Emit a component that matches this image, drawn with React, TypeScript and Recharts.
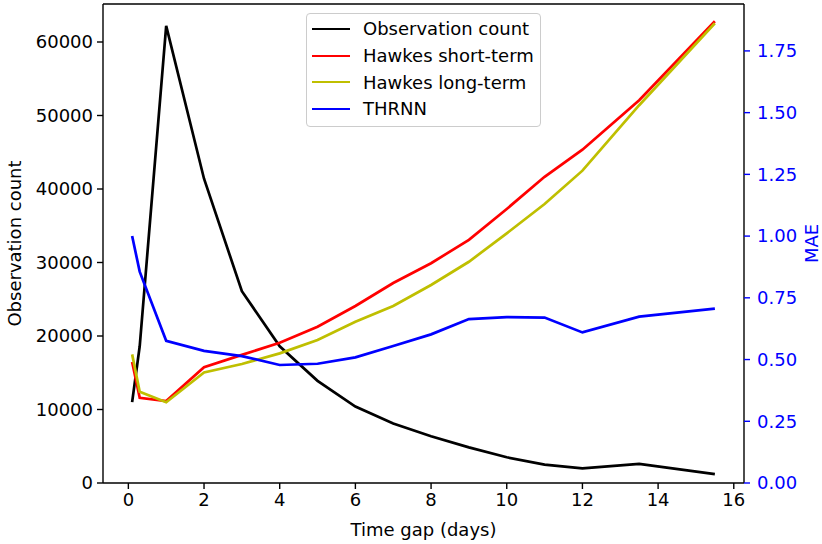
import { LineChart, Line, XAxis, YAxis, Legend, ReferenceLine } from 'recharts';

const gaps = [0.1, 0.3, 1, 2, 3, 4, 5, 6, 7, 8, 9, 10, 11, 12, 13.5, 15.5];
const observationCount = [11000, 18600, 62200, 41400, 26100, 18600, 13900, 10400, 8100, 6350, 4850, 3500, 2500, 2000, 2600, 1200];
const hawkesShort = [0.49, 0.345, 0.332, 0.469, 0.519, 0.568, 0.633, 0.717, 0.81, 0.89, 0.985, 1.11, 1.24, 1.35, 1.55, 1.87];
const hawkesLong = [0.521, 0.37, 0.327, 0.448, 0.482, 0.525, 0.579, 0.653, 0.717, 0.802, 0.896, 1.011, 1.13, 1.265, 1.53, 1.862];
const thrnn = [1.0, 0.856, 0.576, 0.535, 0.514, 0.478, 0.483, 0.509, 0.555, 0.602, 0.664, 0.672, 0.67, 0.61, 0.674, 0.706];

const xTicks = [0, 2, 4, 6, 8, 10, 12, 14, 16];
const countTicks = [0, 10000, 20000, 30000, 40000, 50000, 60000];
const maeTicks = [0, 0.25, 0.5, 0.75, 1, 1.25, 1.5, 1.75];

const COUNT_MAX = 65170;
const MAE_MAX = 1.94;

const series = [
  { key: 'count', name: 'Observation count', color: '#000000', axis: 'count' },
  { key: 'short', name: 'Hawkes short-term', color: '#ff0000', axis: 'mae' },
  { key: 'long', name: 'Hawkes long-term', color: '#bfbf00', axis: 'mae' },
  { key: 'thrnn', name: 'THRNN', color: '#0000ff', axis: 'mae' },
];

const data = gaps.map((gap, i) => ({
  gap,
  count: observationCount[i],
  short: hawkesShort[i],
  long: hawkesLong[i],
  thrnn: thrnn[i],
}));

const LINE_W = 2.7;
const SPINE = '#000';

function LegendBox() {
  return (
    <div
      style={{
        boxSizing: 'border-box',
        width: 235,
        height: 114,
        border: '1px solid #cccccc',
        borderRadius: 4,
        background: 'rgba(255,255,255,0.8)',
        padding: '1.5px 0 0 5px',
        fontSize: 18,
        color: '#000',
      }}
    >
      {series.map((s) => (
        <div key={s.key} style={{ display: 'flex', alignItems: 'center', height: 26.7 }}>
          <span
            style={{
              display: 'inline-block',
              width: 38,
              height: 0,
              borderTop: `${LINE_W}px solid ${s.color}`,
              marginRight: 13,
            }}
          />
          <span style={{ whiteSpace: 'nowrap' }}>{s.name}</span>
        </div>
      ))}
    </div>
  );
}

export default function App() {
  const tickFont = { fontSize: 18, fill: '#000' };
  return (
    <div style={{ position: 'absolute', left: 0, top: 0, fontFamily: 'DejaVu Sans', background: '#fff' }}>
      <LineChart width={822} height={544} data={data} margin={{ top: 4, right: 0, bottom: 0, left: 0 }}>
        <XAxis
          dataKey="gap"
          type="number"
          domain={[-0.67, 16.27]}
          ticks={xTicks}
          allowDataOverflow
          height={61}
          tick={tickFont}
          tickSize={6}
          tickMargin={4}
          tickLine={{ stroke: SPINE, strokeWidth: 1.4 }}
          axisLine={{ stroke: SPINE, strokeWidth: 1.4 }}
          label={{ value: 'Time gap (days)', position: 'insideBottom', offset: 8, fontSize: 18, fill: '#000' }}
        />
        <YAxis
          yAxisId="count"
          orientation="left"
          width={103}
          domain={[0, COUNT_MAX]}
          ticks={countTicks}
          allowDataOverflow
          tick={tickFont}
          tickSize={6}
          tickMargin={4}
          tickLine={{ stroke: SPINE, strokeWidth: 1.4 }}
          axisLine={{ stroke: SPINE, strokeWidth: 1.4 }}
          label={{
            value: 'Observation count',
            angle: -90,
            position: 'insideLeft',
            offset: 15,
            fontSize: 18,
            fill: '#000',
            style: { textAnchor: 'middle' },
          }}
        />
        <YAxis
          yAxisId="mae"
          orientation="right"
          width={78}
          domain={[0, MAE_MAX]}
          ticks={maeTicks}
          allowDataOverflow
          tickFormatter={(v: number) => v.toFixed(2)}
          tick={{ fontSize: 18, fill: '#0000ff' }}
          tickSize={6}
          tickMargin={7}
          tickLine={{ stroke: '#0000ff', strokeWidth: 1.4 }}
          axisLine={{ stroke: SPINE, strokeWidth: 1.4 }}
          label={{
            value: 'MAE',
            angle: -90,
            position: 'insideRight',
            offset: 10,
            fontSize: 18,
            fill: '#0000ff',
            style: { textAnchor: 'middle' },
          }}
        />
        <ReferenceLine yAxisId="count" y={COUNT_MAX} stroke={SPINE} strokeWidth={1.4} />
        {series.map((s) => (
          <Line
            key={s.key}
            yAxisId={s.axis}
            type="linear"
            dataKey={s.key}
            name={s.name}
            stroke={s.color}
            strokeWidth={LINE_W}
            dot={false}
            activeDot={false}
            isAnimationActive={false}
          />
        ))}
        <Legend
          layout="vertical"
          align="center"
          verticalAlign="middle"
          wrapperStyle={{ top: 13, left: 306, width: 235 }}
          content={() => <LegendBox />}
        />
      </LineChart>
    </div>
  );
}
